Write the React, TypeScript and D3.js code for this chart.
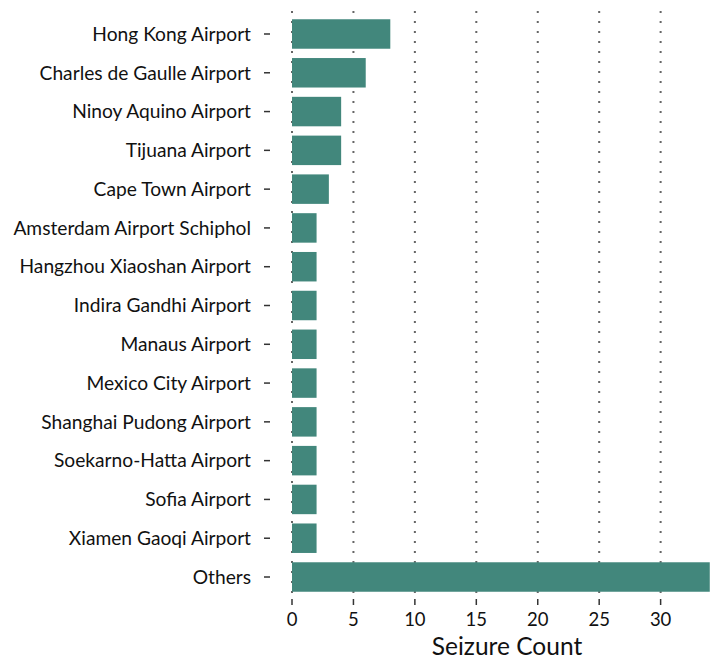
import React from "react";
import * as d3 from "d3";

const airports = [
  "Hong Kong Airport",
  "Charles de Gaulle Airport",
  "Ninoy Aquino Airport",
  "Tijuana Airport",
  "Cape Town Airport",
  "Amsterdam Airport Schiphol",
  "Hangzhou Xiaoshan Airport",
  "Indira Gandhi Airport",
  "Manaus Airport",
  "Mexico City Airport",
  "Shanghai Pudong Airport",
  "Soekarno-Hatta Airport",
  "Sofia Airport",
  "Xiamen Gaoqi Airport",
  "Others",
];
const counts = [8, 6, 4, 4, 3, 2, 2, 2, 2, 2, 2, 2, 2, 2, 34];
const xTicks = [0, 5, 10, 15, 20, 25, 30];
const xTitle = "Seizure Count";

const W = 711;
const H = 661;
const FONT = "Lato, 'Open Sans', sans-serif";

export default function App() {
  const left = 292;
  const right = 711;
  const top = 14.6;
  const bottom = 596.4;
  const x = d3.scaleLinear().domain([0, 34.1]).range([left, right]);
  const y = d3
    .scaleBand<string>()
    .domain(airports)
    .range([top, bottom])
    .paddingInner(0.24)
    .paddingOuter(0.12);
  const data = airports.map((a, i) => ({ a, v: counts[i] }));
  return (
    <svg
      width={W}
      height={H}
      style={{ position: "absolute", left: 0, top: 0, background: "#fff" }}
      fontFamily={FONT}
    >
      {xTicks.map((t) => (
        <line
          key={"g" + t}
          x1={x(t)}
          x2={x(t)}
          y1={11}
          y2={593}
          stroke="#666"
          strokeWidth={2}
          strokeDasharray="2,8"
        />
      ))}
      {data.map((d) => (
        <rect
          key={d.a}
          x={x(0)}
          y={y(d.a)}
          width={x(d.v) - x(0)}
          height={y.bandwidth()}
          fill="#42877c"
        />
      ))}
      {data.map((d) => {
        const cy = (y(d.a) as number) + y.bandwidth() / 2;
        return (
          <g key={"l" + d.a}>
            <line x1={264} x2={270} y1={cy} y2={cy} stroke="#333" strokeWidth={1.5} />
            <text
              x={251}
              y={cy}
              dy="0.35em"
              textAnchor="end"
              fontSize={19.2}
              fill="#111"
            >
              {d.a}
            </text>
          </g>
        );
      })}
      {xTicks.map((t) => (
        <g key={"t" + t}>
          <line x1={x(t)} x2={x(t)} y1={599} y2={605} stroke="#333" strokeWidth={1.5} />
          <text x={x(t)} y={626} textAnchor="middle" fontSize={18.5} fill="#111">
            {t}
          </text>
        </g>
      ))}
      <text x={507} y={655} textAnchor="middle" fontSize={24.5} fill="#111">
        {xTitle}
      </text>
    </svg>
  );
}
